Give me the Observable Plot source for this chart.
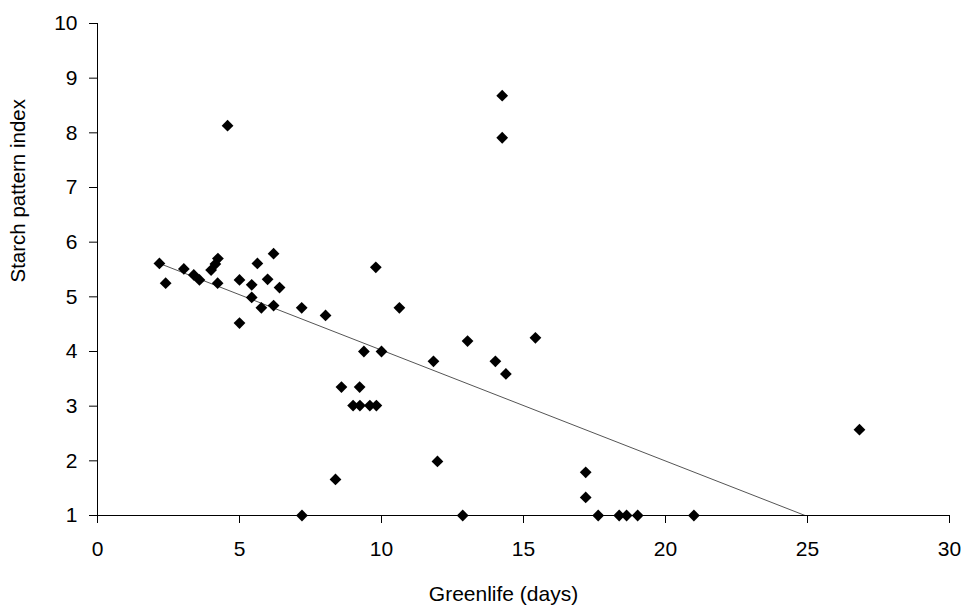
<!DOCTYPE html>
<html>
<head>
<meta charset="utf-8">
<script src="https://cdn.jsdelivr.net/npm/d3@7"></script>
<script src="https://cdn.jsdelivr.net/npm/@observablehq/plot@0.6"></script>
<style>
  html, body { margin: 0; padding: 0; background: #fff; }
  #chart svg { display: block; }
</style>
</head>
<body>
<div id="chart"></div>
<script>
const greenlife = [2.18, 2.40, 3.04, 3.39, 3.59, 4.00, 4.15, 4.24, 4.23, 4.58,
  5.00, 5.00, 5.43, 5.43, 5.63, 5.77, 5.99, 6.20, 6.20, 6.41,
  7.19, 7.20, 8.03, 8.38, 8.59, 9.00, 9.23, 9.24, 9.38, 9.59,
  9.82, 9.80, 10.00, 10.63, 11.83, 11.97, 12.86, 13.03, 14.01, 14.25,
  14.25, 14.38, 15.42, 17.19, 17.19, 17.63, 18.37, 18.63, 19.02, 21.00, 26.83];
const starch = [5.61, 5.25, 5.51, 5.40, 5.31, 5.49, 5.60, 5.70, 5.25, 8.13,
  5.31, 4.52, 5.22, 4.99, 5.61, 4.80, 5.32, 5.79, 4.84, 5.17,
  4.80, 1.00, 4.66, 1.66, 3.35, 3.01, 3.35, 3.01, 4.00, 3.01,
  3.01, 5.54, 4.00, 4.80, 3.82, 1.99, 1.00, 4.19, 3.82, 8.68,
  7.91, 3.59, 4.25, 1.79, 1.33, 1.00, 1.00, 1.00, 1.00, 1.00, 2.57];
const xTicks = [0, 5, 10, 15, 20, 25, 30];
const yTicks = [1, 2, 3, 4, 5, 6, 7, 8, 9, 10];
const xLabel = "Greenlife (days)";
const yLabel = "Starch pattern index";

const data = greenlife.map((g, i) => ({greenlife: g, starch: starch[i]}));

const chart = Plot.plot({
  width: 965,
  height: 608,
  marginLeft: 97,
  marginRight: 16,
  marginTop: 23,
  marginBottom: 93,
  style: {fontFamily: "'Liberation Sans', Arial, sans-serif", fontSize: "21px", color: "#000", background: "#fff"},
  x: {domain: [0, 30]},
  y: {domain: [1, 10]},
  marks: [
    Plot.linearRegressionY(data, {x: "greenlife", y: "starch", ci: 0, stroke: "#555", strokeWidth: 1, clip: true}),
    Plot.ruleX([0], {stroke: "#000", strokeWidth: 1}),
    Plot.ruleY([1], {stroke: "#000", strokeWidth: 1}),
    Plot.axisX({ticks: xTicks, tickSize: 8, tickPadding: 18, tickFormat: d => String(d), stroke: "#000", strokeOpacity: 1, label: null, fontSize: 21}),
    Plot.axisY({ticks: yTicks, tickSize: 8, tickPadding: 12, tickFormat: d => String(d), stroke: "#000", strokeOpacity: 1, label: null, fontSize: 21}),
    Plot.text([xLabel], {text: d => d, frameAnchor: "bottom", dx: -20, dy: 79, lineAnchor: "middle", fill: "#000", fontSize: 21}),
    Plot.text([yLabel], {text: d => d, frameAnchor: "left", dx: -79, dy: 13, rotate: -90, lineAnchor: "middle", fill: "#000", fontSize: 20.5}),
    Plot.dot(data, {x: "greenlife", y: "starch", symbol: "diamond2", r: 5.3, fill: "#000", stroke: "none"})
  ]
});
document.getElementById("chart").appendChild(chart);
</script>
</body>
</html>
